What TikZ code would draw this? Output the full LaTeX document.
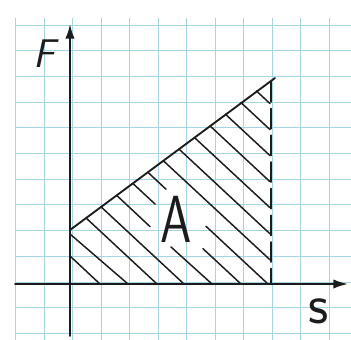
\documentclass[tikz,border=0pt]{standalone}
\usetikzlibrary{arrows.meta}
\definecolor{gridc}{RGB}{165,213,228}
\definecolor{inkc}{RGB}{28,28,28}
\begin{document}
\begin{tikzpicture}[x=0.75pt,y=-0.75pt,
  gridline/.style={draw=gridc,line width=0.7pt},
  ink/.style={draw=inkc,line width=1.4pt,line cap=round},
  hatch/.style={draw=inkc,line width=1.1pt,line cap=round},
  axisarrow/.style={ink,-{Latex[length=11pt,width=7pt]}},
  label/.style={text=inkc,inner sep=0pt}]
\useasboundingbox (0,0) rectangle (351,340);
\fill[white] (0,0) rectangle (351,340);
% grid paper
\foreach \i in {0,...,11} \draw[gridline] ({15.5+28.5*\i},18) -- ({15.5+28.5*\i},340);
\foreach \j in {0,...,12} \draw[gridline] (15,{25+25.7*\j}) -- (351,{25+25.7*\j});
% key points
\coordinate (ybot) at (70,336);
\coordinate (ytop) at (70,24);
\coordinate (xl) at (15,284);
\coordinate (xr) at (348,284);
\coordinate (P0) at (70,230);
\coordinate (P1) at (275,78);
\coordinate (D0) at (271,82);
\coordinate (D1) at (271,284);
% hatching
\foreach \ax/\ay/\bx/\by in {
  70/256/100/284,
  70/234/128/284,
  86.1/218/157/284,
  101.1/206.9/184/284,
  116.6/195.3/150/226.6,
  171/247/212/284,
  132.7/183.3/155/204,
  203/248.7/241/284,
  147.7/172.1/166/189.2,
  206/226.3/268/284,
  163.2/160.6/270/259.8,
  178.8/148.9/270/233.8,
  194.3/137.4/270/207.7,
  209.9/125.8/270/181.7,
  225.4/114.2/270/155.6,
  241.0/102.6/270/129.6,
  256.5/91.0/270/103.6}
  \draw[hatch] (\ax,\ay) -- (\bx,\by);
% axes and boundary
\draw[axisarrow] (ybot) -- (ytop);
\draw[axisarrow] (xl) -- (xr);
\draw[ink] (P0) -- (P1);
\draw[ink,dash pattern=on 15pt off 5pt] (D0) -- (D1);
% labels
\node[label,font={\sffamily\slshape\fontsize{30}{30}\selectfont}] (F) at (44,54) {F};
\node[label,font={\sffamily\fontsize{50}{50}\selectfont}] (A) at (176,219) {\scalebox{0.75}[1]{A}};
\node[label,font={\sffamily\fontsize{42}{42}\selectfont}] (S) at (319,311) {s};
\end{tikzpicture}
\end{document}
